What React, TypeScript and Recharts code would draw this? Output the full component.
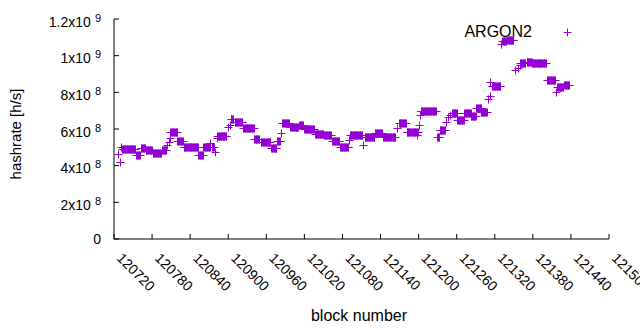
import React from 'react';
import { ScatterChart, Scatter, XAxis, YAxis } from 'recharts';

// Runs of consecutive blocks with a (read-off) hashrate, in units of 1e6 h/s
const runStartBlock = [
  120726, 120729, 120731, 120733, 120755, 120762, 120770, 120781, 120795, 120803,
  120806, 120808, 120809, 120820, 120830, 120853, 120861, 120872, 120874, 120879,
  120882, 120883, 120900, 120902, 120904, 120910, 120924, 120941, 120951, 120968,
  120977, 120983, 120985, 120998, 121012, 121020, 121037, 121051, 121064, 121076,
  121090, 121092, 121112, 121115, 121131, 121144, 121166, 121169, 121181, 121198,
  121200, 121202, 121203, 121229, 121233, 121243, 121246, 121249, 121252, 121261,
  121272, 121283, 121291, 121299, 121310, 121312, 121313, 121315, 121330, 121332,
  121340, 121352, 121356, 121359, 121360, 121370, 121379, 121403, 121417, 121418,
  121429,
];
const runEndBlock = [
  120726, 120729, 120731, 120753, 120761, 120769, 120780, 120794, 120802, 120803,
  120806, 120808, 120819, 120828, 120852, 120860, 120871, 120872, 120877, 120879,
  120882, 120897, 120900, 120902, 120908, 120922, 120940, 120949, 120966, 120976,
  120981, 120983, 120996, 121010, 121018, 121035, 121050, 121062, 121075, 121089,
  121090, 121111, 121112, 121130, 121142, 121163, 121166, 121180, 121199, 121198,
  121200, 121202, 121227, 121232, 121241, 121243, 121246, 121249, 121260, 121271,
  121282, 121290, 121298, 121307, 121310, 121312, 121313, 121329, 121330, 121338,
  121349, 121352, 121356, 121359, 121368, 121378, 121400, 121415, 121417, 121428,
  121437,
];
const runHashrate = [
  466, 422, 500, 491, 458, 497, 485, 470, 488, 510,
  531, 549, 582, 533, 502, 457, 502, 522, 502, 473,
  549, 560, 612, 620, 655, 636, 605, 544, 529, 495,
  533, 576, 631, 611, 620, 602, 574, 566, 535, 504,
  540, 566, 513, 558, 580, 555, 604, 631, 585, 567,
  622, 676, 696, 558, 595, 640, 665, 676, 686, 647,
  686, 669, 716, 694, 764, 782, 855, 836, 1064, 1078,
  1088, 922, 935, 949, 958, 967, 958, 867, 803, 831,
  842,
];

const xTicks = [120720, 120780, 120840, 120900, 120960, 121020, 121080, 121140, 121200, 121260, 121320, 121380, 121440, 121500];
const yTicks = [0, 2e8, 4e8, 6e8, 8e8, 1e9, 1.2e9];
const yTickMantissa = ['0', '2x10', '4x10', '6x10', '8x10', '1x10', '1.2x10'];
const yTickExponent = ['', '8', '8', '8', '8', '9', '9'];

const seriesName = 'ARGON2';
const xLabel = 'block number';
const yLabel = 'hashrate [h/s]';

const data: { block: number; hashrate: number }[] = [];
runStartBlock.forEach((s, i) => {
  for (let b = s; b <= runEndBlock[i]; b++) {
    data.push({ block: b, hashrate: runHashrate[i] * 1e6 });
  }
});

const COLOR = '#9400D3';
const FONT = '"Liberation Sans", Arial, sans-serif';

const Cross = (props: any) => {
  const { cx, cy } = props;
  if (cx == null || cy == null) return <g />;
  const px = Math.round(cx) + 0.5;
  const py = Math.round(cy) + 0.5;
  return (
    <path d={`M${px - 4},${py}h8M${px},${py - 4}v8`} stroke={COLOR} strokeWidth={1} fill="none" />
  );
};

const BottomTick = (props: any) => {
  const { x, y, payload } = props;
  const tx = x + 2;
  const ty = y + 20;
  return (
    <g>
      <line x1={x} y1={y} x2={x} y2={y - 5} stroke="#000" />
      <text x={tx} y={ty} transform={`rotate(45 ${tx} ${ty})`} fontSize={14} fontFamily={FONT} fill="#000" textAnchor="start">
        {payload.value}
      </text>
    </g>
  );
};

const TopTick = (props: any) => {
  const { x, y } = props;
  return <line x1={x} y1={y} x2={x} y2={y + 5} stroke="#000" />;
};

const LeftTick = (props: any) => {
  const { x, y, payload, index } = props;
  const i = yTicks.indexOf(payload.value);
  const k = i >= 0 ? i : index;
  const exp = yTickExponent[k];
  return (
    <g>
      <line x1={x} y1={y} x2={x + 5} y2={y} stroke="#000" />
      <text x={x - 13} y={y + (exp ? 7.5 : 4.5)} fontSize={14} fontFamily={FONT} fill="#000" textAnchor="end">
        <tspan>{yTickMantissa[k]}</tspan>
        {exp ? (
          <tspan dx={4} dy={-5} fontSize={11}>
            {exp}
          </tspan>
        ) : null}
      </text>
    </g>
  );
};

const RightTick = (props: any) => {
  const { x, y } = props;
  return <line x1={x} y1={y} x2={x - 5} y2={y} stroke="#000" />;
};

export default function App() {
  return (
    <div style={{ position: 'absolute', left: 0, top: 0, width: 640, height: 330, background: '#fff' }}>
      <ScatterChart width={640} height={330} margin={{ top: 19, right: 31, bottom: 0, left: 0 }}>
        <XAxis
          xAxisId="bottom"
          dataKey="block"
          type="number"
          domain={[120720, 121500]}
          ticks={xTicks}
          interval={0}
          allowDataOverflow
          height={91}
          tickSize={0}
          tickMargin={0}
          tickLine={false}
          axisLine={{ stroke: '#000' }}
          tick={<BottomTick />}
        />
        <XAxis
          xAxisId="top"
          orientation="top"
          dataKey="block"
          type="number"
          domain={[120720, 121500]}
          ticks={xTicks}
          interval={0}
          allowDataOverflow
          height={0}
          tickSize={0}
          tickMargin={0}
          tickLine={false}
          axisLine={{ stroke: '#000' }}
          tick={<TopTick />}
        />
        <YAxis
          yAxisId="left"
          dataKey="hashrate"
          type="number"
          domain={[0, 1.2e9]}
          ticks={yTicks}
          interval={0}
          allowDataOverflow
          width={114}
          tickSize={0}
          tickMargin={0}
          tickLine={false}
          axisLine={{ stroke: '#000' }}
          tick={<LeftTick />}
        />
        <YAxis
          yAxisId="right"
          orientation="right"
          dataKey="hashrate"
          type="number"
          domain={[0, 1.2e9]}
          ticks={yTicks}
          interval={0}
          allowDataOverflow
          width={0}
          tickSize={0}
          tickMargin={0}
          tickLine={false}
          axisLine={{ stroke: '#000' }}
          tick={<RightTick />}
        />
        <Scatter
          xAxisId="bottom"
          yAxisId="left"
          name={seriesName}
          data={data}
          shape={<Cross />}
          isAnimationActive={false}
        />
        <text x={532} y={37} fontSize={16} fontFamily={FONT} textAnchor="end" fill="#000">
          {seriesName}
        </text>
        <path d="M563.5,32.5h8M567.5,28.5v8" stroke={COLOR} strokeWidth={1} />
        <text x={359} y={321} fontSize={16} fontFamily={FONT} textAnchor="middle" fill="#000">
          {xLabel}
        </text>
        <text x={21} y={134} fontSize={15} fontFamily={FONT} textAnchor="middle" fill="#000" transform="rotate(-90 21 134)">
          {yLabel}
        </text>
      </ScatterChart>
    </div>
  );
}
